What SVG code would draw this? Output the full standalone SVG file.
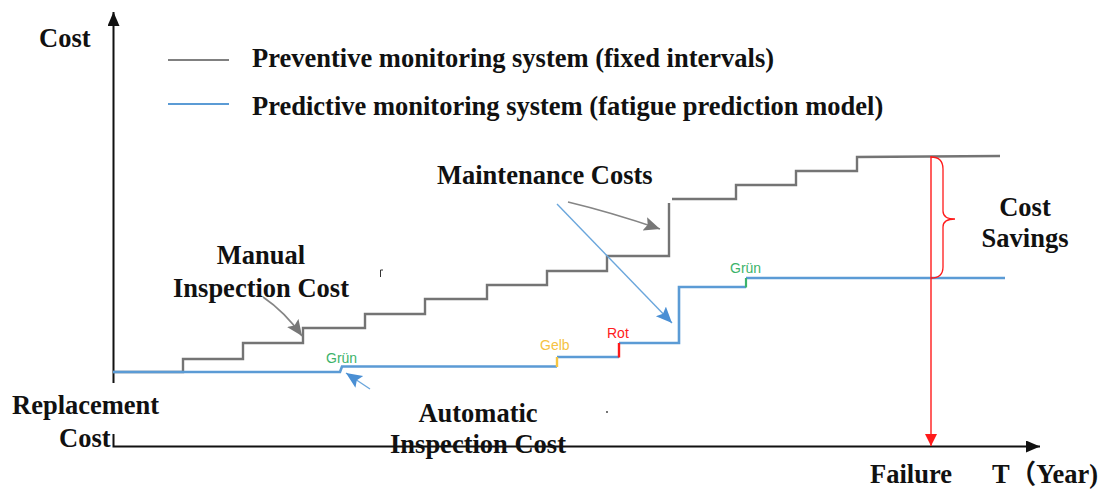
<svg xmlns="http://www.w3.org/2000/svg" width="1103" height="493" viewBox="0 0 1103 493">
  <style>
    .lbl { font-family: "Liberation Serif", "Times New Roman", serif; font-weight: bold; font-size: 26.5px; fill: #111; }
    .tag { font-family: "Liberation Sans", Arial, sans-serif; font-size: 14px; }
    .axis { stroke: #111; stroke-width: 2; fill: none; }
    .prev { stroke: #747474; stroke-width: 2.4; fill: none; }
    .pred { stroke: #5b9bd5; stroke-width: 2.6; fill: none; }
    .ptr-gray { stroke: #858585; stroke-width: 1.6; fill: none; }
    .ptr-blue { stroke: #6aa6dc; stroke-width: 1.4; fill: none; }
  </style>
  <defs>
    <marker id="axisHead" markerUnits="userSpaceOnUse" markerWidth="16" markerHeight="14" refX="14" refY="6" orient="auto">
      <path d="M0,0 L14,6 L0,12 Z" fill="#111"/>
    </marker>
    <marker id="redHead" markerUnits="userSpaceOnUse" markerWidth="14" markerHeight="14" refX="12" refY="6" orient="auto">
      <path d="M0,0 L12,6 L0,12 Z" fill="#ff1a1a"/>
    </marker>
    <marker id="grayHead" markerUnits="userSpaceOnUse" markerWidth="18" markerHeight="16" refX="16" refY="7" orient="auto">
      <path d="M0,0 L16,7 L0,14 L3,7 Z" fill="#777"/>
    </marker>
    <marker id="blueHead" markerUnits="userSpaceOnUse" markerWidth="18" markerHeight="16" refX="16" refY="7" orient="auto">
      <path d="M0,0 L16,7 L0,14 L3,7 Z" fill="#4a8fd4"/>
    </marker>
  </defs>

  <rect width="1103" height="493" fill="#fff"/>

  <!-- axes -->
  <g id="axes">
    <path class="axis" d="M113.5,383 V12" marker-end="url(#axisHead)"/>
    <path class="axis" d="M113.5,434 V446.5 H1040" marker-end="url(#axisHead)"/>
  </g>

  <!-- legend -->
  <g id="legend">
    <line x1="168" y1="60" x2="229" y2="60" stroke="#808080" stroke-width="2"/>
    <text class="lbl" x="252" y="67">Preventive monitoring system (fixed intervals)</text>
    <line x1="168" y1="104" x2="229" y2="104" stroke="#5b9bd5" stroke-width="2"/>
    <text class="lbl" x="252" y="115">Predictive monitoring system (fatigue prediction model)</text>
  </g>

  <!-- preventive cost curve (fixed-interval steps) -->
  <g id="preventive">
    <path class="prev" d="M113,372 H183 V359 H243 V343 H303 V328 H365 V314 H425 V299 H487 V285 H547 V271 H607 V256 H669 V203"/>
    <path class="prev" d="M672,199 H736 V185 H796 V171 H857 V157 L1000,156"/>
  </g>

  <!-- predictive cost curve with status transitions -->
  <g id="predictive">
    <path class="pred" d="M113,372 H340 L342,366.5 H557"/>
    <path class="pred" d="M557,357 H619"/>
    <path class="pred" d="M619,343 H679 V287 H746"/>
    <path class="pred" d="M746,278 H1005"/>
    <line x1="557" y1="367" x2="557" y2="357" stroke="#f5c542" stroke-width="2.4"/>
    <line x1="619" y1="357.5" x2="619" y2="343" stroke="#ff1a1a" stroke-width="2.4"/>
    <line x1="746" y1="287.5" x2="746" y2="278" stroke="#3cb36a" stroke-width="2.2"/>
    <text class="tag" x="326" y="363" fill="#3cb36a">Grün</text>
    <text class="tag" x="540" y="350" fill="#f5c242">Gelb</text>
    <text class="tag" x="607" y="338" fill="#ff2020">Rot</text>
    <text class="tag" x="730" y="273" fill="#3cb36a">Grün</text>
  </g>

  <!-- failure marker and savings brace -->
  <g id="failure">
    <line x1="931" y1="156" x2="931" y2="446" stroke="#ff1a1a" stroke-width="1.4" marker-end="url(#redHead)"/>
    <path d="M931,157 Q943,157 943,169 L943,211 Q943,219 955,219 Q943,219 943,227 L943,267 Q943,278 931,278" fill="none" stroke="#ff1a1a" stroke-width="1.3"/>
  </g>

  <!-- annotation pointers -->
  <g id="connectors">
    <path class="ptr-gray" d="M263,297 Q285,312 302,336" marker-end="url(#grayHead)"/>
    <path class="ptr-gray" d="M568,202 Q610,212 660,229" marker-end="url(#grayHead)"/>
    <path class="ptr-blue" d="M557,204 L672,323" marker-end="url(#blueHead)"/>
    <path class="ptr-blue" d="M370,389 L346,373" marker-end="url(#blueHead)"/>
  </g>

  <!-- labels -->
  <g id="label-cost"><text class="lbl" x="39" y="47">Cost</text></g>
  <g id="label-maintenance"><text class="lbl" x="437" y="184">Maintenance Costs</text></g>
  <g id="label-manual">
    <text class="lbl" x="261" y="264" text-anchor="middle">Manual</text>
    <text class="lbl" x="261" y="297" text-anchor="middle">Inspection Cost</text>
  </g>
  <g id="label-replacement">
    <text class="lbl" x="12" y="414">Replacement</text>
    <text class="lbl" x="59" y="447">Cost</text>
  </g>
  <g id="label-automatic">
    <text class="lbl" x="478" y="422" text-anchor="middle">Automatic</text>
    <text class="lbl" x="478" y="453" text-anchor="middle">Inspection Cost</text>
  </g>
  <g id="label-savings">
    <text class="lbl" x="1025" y="216" text-anchor="middle">Cost</text>
    <text class="lbl" x="1025" y="247" text-anchor="middle">Savings</text>
  </g>
  <g id="label-failure"><text class="lbl" x="870" y="483">Failure</text></g>
  <g id="label-time"><text class="lbl" x="992" y="483" style="font-family: 'Liberation Serif', 'Noto Sans CJK SC', serif;">T（Year)</text></g>

  <!-- stray marks -->
  <path d="M380.5,277 V270 H383" fill="none" stroke="#333" stroke-width="1"/>
  <circle cx="607" cy="412" r="0.9" fill="#333"/>
</svg>
